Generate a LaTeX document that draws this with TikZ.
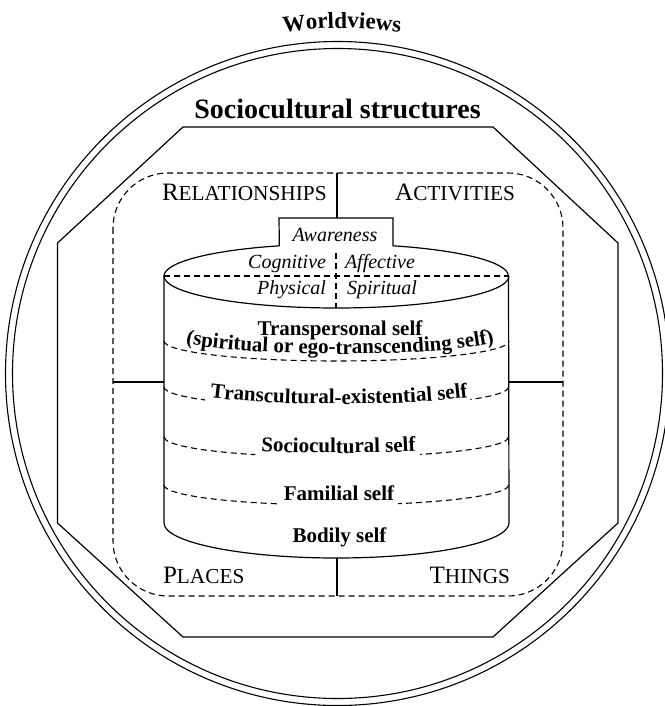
\documentclass[tikz,border=0pt]{standalone}
\usepackage{fontspec}
\setmainfont{Liberation Serif}
\usetikzlibrary{decorations.text}
\newcommand\fbold{\bfseries\fontsize{21}{25}\selectfont}
\newcommand\fww{\bfseries\fontsize{23}{27}\selectfont}
\newcommand\fital{\itshape\fontsize{20}{24}\selectfont}
\newcommand\scbig{\fontsize{25}{30}\selectfont}
\newcommand\scsmall{\fontsize{21.3}{25}\selectfont}
\begin{document}
\begin{tikzpicture}[x=1pt,y=-1pt,line width=1.2pt,
  dsh/.style={line width=1.1pt,dash pattern=on 6pt off 4pt},
  lbl/.style={inner sep=0pt,outer sep=0pt},
  curvetext/.style={decorate,decoration={text along path,text align=center,text={|\fbold|#1}}}]
\useasboundingbox (0,0) rectangle (664,706);
% worldviews circles
\draw[line width=1.1pt] (337.5,373.5) circle[radius=332];
\draw[line width=1.1pt] (337.5,373.5) circle[radius=325];
\path[decorate,decoration={text along path,text align=center,text={|\fww|Worldviews}}]
  (244,37) .. controls (342,25) .. (440,37);
% sociocultural structures octagon
\draw (183,127) -- (493,127) -- (618,243) -- (618,523) -- (493,637) -- (183,637) -- (57.5,523) -- (57.5,243) -- cycle;
\node[lbl,anchor=base,font=\bfseries\fontsize{28}{32}\selectfont] (ss) at (337.5,118) {Sociocultural structures};
% dashed rounded rectangle
\draw[dsh,rounded corners=55pt] (113,173) rectangle (563,596);
\node[lbl,anchor=base west] (rel) at (162,200) {\scbig R\scsmall ELATIONSHIPS};
\node[lbl,anchor=base east] (act) at (515,200) {\scbig A\scsmall CTIVITIES};
\node[lbl,anchor=base west] (pla) at (163,583) {\scbig P\scsmall LACES};
\node[lbl,anchor=base east] (thi) at (510,583) {\scbig T\scsmall HINGS};
% dividers
\coordinate (rtop) at (337,173);
\coordinate (boxtop) at (337,218);
\coordinate (cylbot) at (337,558);
\coordinate (rbot) at (337,596);
\coordinate (rleft) at (113,382);
\coordinate (cylleft) at (164,382);
\coordinate (cylright) at (508.5,382);
\coordinate (rright) at (563,382);
\draw (rtop) -- (boxtop);
\draw (cylbot) -- (rbot);
\draw (rleft) -- (cylleft);
\draw (cylright) -- (rright);
% cylinder top with awareness box
\draw (164,276) arc[start angle=180,end angle=250.65,x radius=172.5,y radius=32]
  -- (279,218) -- (393,218) -- (393,245.8)
  arc[start angle=289.35,end angle=360,x radius=172.5,y radius=32];
\draw (164,276) arc[start angle=180,end angle=0,x radius=172.5,y radius=32];
\draw (164,276) -- (164,523) arc[start angle=180,end angle=0,x radius=172.5,y radius=35] -- (508.5,276);
\draw[dsh] (164,276) -- (508.5,276);
\draw[dsh] (336,253) -- (336,308);
\node[lbl,anchor=base,font=\fital] (aw) at (335,241) {Awareness};
\node[lbl,anchor=base east,font=\fital] (cog) at (326,268) {Cognitive};
\node[lbl,anchor=base west,font=\fital] (aff) at (345,268) {Affective};
\node[lbl,anchor=base east,font=\fital] (phy) at (326,294) {Physical};
\node[lbl,anchor=base west,font=\fital] (spi) at (347,294) {Spiritual};
% layers
\draw[dsh] (164,341) arc[start angle=180,end angle=0,x radius=172.5,y radius=20];
\draw[dsh] (164,387) arc[start angle=180,end angle=139.6,x radius=172.5,y radius=20];
\draw[dsh] (508.5,387) arc[start angle=0,end angle=38.8,x radius=172.5,y radius=20];
\draw[dsh] (164,437) arc[start angle=180,end angle=118.1,x radius=172.5,y radius=20];
\draw[dsh] (508.5,437) arc[start angle=0,end angle=60.8,x radius=172.5,y radius=20];
\draw[dsh] (164,485) arc[start angle=180,end angle=109.7,x radius=172.5,y radius=20];
\draw[dsh] (508.5,485) arc[start angle=0,end angle=68.9,x radius=172.5,y radius=20];
\node[lbl,anchor=base,font=\fbold] (tp) at (340,335) {Transpersonal self};
\path[curvetext={(spiritual or ego-transcending self)}] (165,334) arc[start angle=180,end angle=0,x radius=175,y radius=20];
\path[curvetext={Transcultural-existential self}] (164,384) arc[start angle=180,end angle=0,x radius=175,y radius=20];
\path[curvetext={Sociocultural self}] (163.5,434) arc[start angle=180,end angle=0,x radius=175,y radius=19];
\node[lbl,anchor=base,font=\fbold] (fam) at (339,500) {Familial self};
\node[lbl,anchor=base,font=\fbold] (bod) at (339.5,542) {Bodily self};
\end{tikzpicture}
\end{document}
